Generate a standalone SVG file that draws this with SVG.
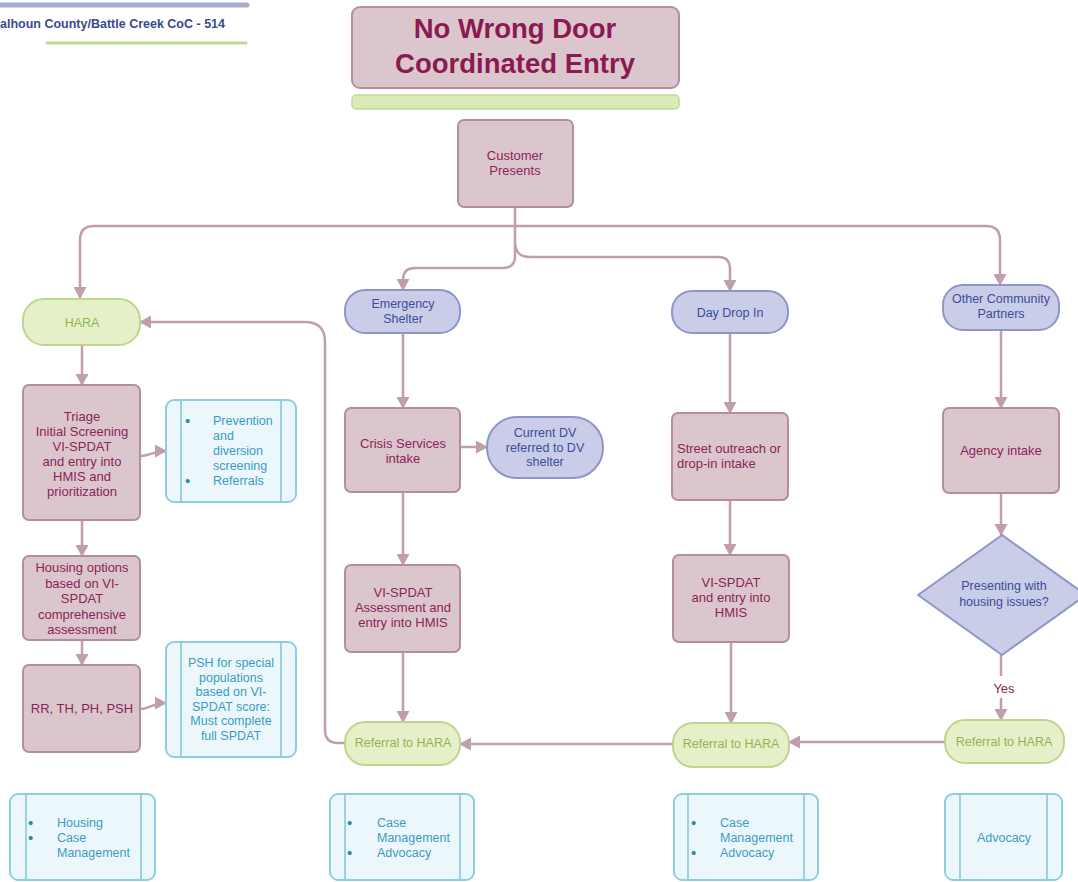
<svg xmlns="http://www.w3.org/2000/svg" width="1078" height="882" viewBox="0 0 1078 882">
<defs>
<style>
text{font-family:"Liberation Sans",Arial,sans-serif;}
.pk{fill:#dcc6ce;stroke:#b38f9e;stroke-width:2;}
.bl{fill:#c9cde7;stroke:#8e96c9;stroke-width:2;}
.gr{fill:#e6f0c8;stroke:#bcd68e;stroke-width:2;}
.cy{fill:#ecf7fb;stroke:#8fcde2;stroke-width:2;}
.cyl{fill:none;stroke:#8fcde2;stroke-width:1.8;}
.tp{fill:#8b2456;font-size:13px;text-anchor:middle;}
.tpl{fill:#8b2456;font-size:13px;}
.tb{fill:#3c4c9c;font-size:12.5px;text-anchor:middle;}
.tg{fill:#8fb552;font-size:12.5px;text-anchor:middle;}
.tc{fill:#3a9cc4;font-size:12.5px;}
.tcm{fill:#3a9cc4;font-size:12.5px;text-anchor:middle;}
.bu{fill:#2b8a9e;font-size:15px;}
.cn{fill:none;stroke:#c19ead;stroke-width:2.5;marker-end:url(#ah);}
.cnn{fill:none;stroke:#c19ead;stroke-width:2.5;}
</style>
<marker id="ah" markerUnits="userSpaceOnUse" markerWidth="12" markerHeight="13" refX="11" refY="6.5" orient="auto">
<path d="M0,0 L12,6.5 L0,13 z" fill="#c19ead"/>
</marker>
</defs>
<rect width="1078" height="882" fill="#ffffff"/>

<g id="header">
<line x1="0" y1="5" x2="247" y2="5" stroke="#a7adcf" stroke-width="5" stroke-linecap="round"/>
<text x="0" y="28" font-size="12" font-weight="bold" fill="#3a4a8c" textLength="225" lengthAdjust="spacingAndGlyphs">alhoun County/Battle Creek CoC - 514</text>
<line x1="47" y1="43" x2="246" y2="43" stroke="#bddb95" stroke-width="3" stroke-linecap="round"/>
</g>

<g id="title">
<rect x="352" y="7" width="327" height="81" rx="8" class="pk"/>
<text x="515" y="38" font-size="27.5" font-weight="bold" fill="#8b1a50" text-anchor="middle">No Wrong Door</text>
<text x="515" y="73" font-size="27.5" font-weight="bold" fill="#8b1a50" text-anchor="middle">Coordinated Entry</text>
<rect x="352" y="95" width="327" height="14" rx="4" fill="#dbebb6" stroke="#c2da9a" stroke-width="1.5"/>
</g>

<g id="connectors">
<path class="cn" d="M515,208 V226 H94 Q80,226 80,240 V298"/>
<path class="cn" d="M515,226 H986 Q1000,226 1000,240 V285"/>
<path class="cn" d="M515,226 V256 Q515,268 503,268 H415 Q403,268 403,280 V290"/>
<path class="cn" d="M515,244 Q516,257 530,257 H718 Q730,257 730,269 V291"/>
<path class="cn" d="M82,345 V385"/>
<path class="cn" d="M140,456 C150,456 152,451 166,451"/>
<path class="cn" d="M82,520 V556"/>
<path class="cn" d="M82,640 V665"/>
<path class="cn" d="M140,709 C150,709 152,703 166,703"/>
<path class="cn" d="M403,333 V408"/>
<path class="cn" d="M460,447 H487"/>
<path class="cn" d="M403,492 V565"/>
<path class="cn" d="M403,652 V722"/>
<path class="cn" d="M730,333 V413"/>
<path class="cn" d="M730,500 V555"/>
<path class="cn" d="M731,642 V723"/>
<path class="cn" d="M1001,330 V408"/>
<path class="cn" d="M1001,493 V535"/>
<path class="cnn" d="M1001,655 V676"/>
<path class="cn" d="M1001,698 V720"/>
<path class="cn" d="M945,742 H789"/>
<path class="cn" d="M673,744 H460"/>
<path class="cn" d="M345,743 H338 Q325,743 325,730 V342 Q325,322 305,322 H140"/>
<text x="1004" y="693" class="tpl" text-anchor="middle">Yes</text>
</g>

<g id="customer">
<rect x="458" y="120" width="115" height="87" rx="6" class="pk"/>
<text x="515" y="160" class="tp" font-size="12.5">Customer</text>
<text x="515" y="175" class="tp" font-size="12.5">Presents</text>
</g>

<g id="hara">
<rect x="23" y="299" width="117" height="46" rx="21" class="gr"/>
<text x="82" y="327" class="tg" font-size="11">HARA</text>
</g>

<g id="emergency-shelter">
<rect x="345" y="290" width="115" height="43" rx="20" class="bl"/>
<text x="403" y="308" class="tb">Emergency</text>
<text x="403" y="323" class="tb">Shelter</text>
</g>

<g id="day-drop-in">
<rect x="672" y="291" width="116" height="42" rx="20" class="bl"/>
<text x="730" y="317" class="tb">Day Drop In</text>
</g>

<g id="other-community">
<rect x="943" y="285" width="116" height="45" rx="20" class="bl"/>
<text x="1001" y="303" class="tb">Other Community</text>
<text x="1001" y="318" class="tb">Partners</text>
</g>

<g id="triage">
<rect x="23" y="385" width="117" height="135" rx="6" class="pk"/>
<text x="82" y="421" class="tp">Triage</text>
<text x="82" y="436" class="tp">Initial Screening</text>
<text x="82" y="451" class="tp">VI-SPDAT</text>
<text x="82" y="466" class="tp">and entry into</text>
<text x="82" y="481" class="tp">HMIS and</text>
<text x="82" y="496" class="tp">prioritization</text>
</g>

<g id="prevention">
<rect x="166" y="400" width="130" height="102" rx="8" class="cy"/>
<line x1="181" y1="400" x2="181" y2="502" class="cyl"/>
<line x1="281" y1="400" x2="281" y2="502" class="cyl"/>
<text x="185" y="426" class="bu">•</text>
<text x="213" y="425" class="tc">Prevention</text>
<text x="213" y="440" class="tc">and</text>
<text x="213" y="455" class="tc">diversion</text>
<text x="213" y="470" class="tc">screening</text>
<text x="185" y="486" class="bu">•</text>
<text x="213" y="485" class="tc">Referrals</text>
</g>

<g id="housing-options">
<rect x="23" y="556" width="117" height="84" rx="6" class="pk"/>
<text x="82" y="572" class="tp">Housing options</text>
<text x="82" y="587.5" class="tp">based on VI-</text>
<text x="82" y="603" class="tp">SPDAT</text>
<text x="82" y="618.5" class="tp">comprehensive</text>
<text x="82" y="634" class="tp">assessment</text>
</g>

<g id="rr-th-ph-psh">
<rect x="23" y="665" width="117" height="87" rx="6" class="pk"/>
<text x="82" y="713" class="tp">RR, TH, PH, PSH</text>
</g>

<g id="psh-special">
<rect x="166" y="642" width="130" height="115" rx="8" class="cy"/>
<line x1="181" y1="642" x2="181" y2="757" class="cyl"/>
<line x1="281" y1="642" x2="281" y2="757" class="cyl"/>
<text x="231" y="667" class="tcm">PSH for special</text>
<text x="231" y="681.5" class="tcm">populations</text>
<text x="231" y="696" class="tcm">based on VI-</text>
<text x="231" y="710.5" class="tcm">SPDAT score:</text>
<text x="231" y="725" class="tcm">Must complete</text>
<text x="231" y="739.5" class="tcm">full SPDAT</text>
</g>

<g id="crisis-services">
<rect x="345" y="408" width="115" height="84" rx="6" class="pk"/>
<text x="403" y="448" class="tp" font-size="12.5">Crisis Services</text>
<text x="403" y="463" class="tp" font-size="12.5">intake</text>
</g>

<g id="current-dv">
<rect x="487" y="417" width="116" height="61" rx="30" class="bl"/>
<text x="545" y="437" class="tb">Current DV</text>
<text x="545" y="452" class="tb">referred to DV</text>
<text x="545" y="466" class="tb">shelter</text>
</g>

<g id="street-outreach">
<rect x="672" y="413" width="116" height="87" rx="6" class="pk"/>
<text x="677" y="453" class="tpl" font-size="12.5">Street outreach or</text>
<text x="677" y="468" class="tpl" font-size="12.5">drop-in intake</text>
</g>

<g id="agency-intake">
<rect x="943" y="408" width="116" height="85" rx="6" class="pk"/>
<text x="1001" y="455" class="tp" font-size="12.5">Agency intake</text>
</g>

<g id="presenting">
<polygon points="1002,535 1086,595 1002,655 918,595" class="bl" stroke-linejoin="round"/>
<text x="1004" y="590" class="tb">Presenting with</text>
<text x="1004" y="606" class="tb">housing issues?</text>
</g>

<g id="vi-spdat-assessment">
<rect x="345" y="565" width="115" height="87" rx="6" class="pk"/>
<text x="403" y="597" class="tp" font-size="12.5">VI-SPDAT</text>
<text x="403" y="612" class="tp" font-size="12.5">Assessment and</text>
<text x="403" y="627" class="tp" font-size="12.5">entry into HMIS</text>
</g>

<g id="vi-spdat-entry">
<rect x="673" y="555" width="116" height="87" rx="6" class="pk"/>
<text x="731" y="587" class="tp" font-size="12.5">VI-SPDAT</text>
<text x="731" y="602" class="tp" font-size="12.5">and entry into</text>
<text x="731" y="617" class="tp" font-size="12.5">HMIS</text>
</g>

<g id="referral-1">
<rect x="345" y="722" width="115" height="43" rx="20" class="gr"/>
<text x="403" y="747" class="tg">Referral to HARA</text>
</g>

<g id="referral-2">
<rect x="673" y="723" width="116" height="44" rx="20" class="gr"/>
<text x="731" y="748" class="tg">Referral to HARA</text>
</g>

<g id="referral-3">
<rect x="945" y="720" width="119" height="43" rx="20" class="gr"/>
<text x="1004" y="746" class="tg">Referral to HARA</text>
</g>

<g id="bottom-1">
<rect x="10" y="794" width="145" height="86" rx="8" class="cy"/>
<line x1="26" y1="794" x2="26" y2="880" class="cyl"/>
<line x1="141" y1="794" x2="141" y2="880" class="cyl"/>
<text x="28" y="828" class="bu">•</text>
<text x="57" y="827" class="tc">Housing</text>
<text x="28" y="843" class="bu">•</text>
<text x="57" y="842" class="tc">Case</text>
<text x="57" y="857" class="tc">Management</text>
</g>

<g id="bottom-2">
<rect x="330" y="794" width="144" height="86" rx="8" class="cy"/>
<line x1="345" y1="794" x2="345" y2="880" class="cyl"/>
<line x1="460" y1="794" x2="460" y2="880" class="cyl"/>
<text x="347" y="828" class="bu">•</text>
<text x="377" y="827" class="tc">Case</text>
<text x="377" y="842" class="tc">Management</text>
<text x="347" y="858" class="bu">•</text>
<text x="377" y="857" class="tc">Advocacy</text>
</g>

<g id="bottom-3">
<rect x="674" y="794" width="144" height="86" rx="8" class="cy"/>
<line x1="688" y1="794" x2="688" y2="880" class="cyl"/>
<line x1="804" y1="794" x2="804" y2="880" class="cyl"/>
<text x="691" y="828" class="bu">•</text>
<text x="720" y="827" class="tc">Case</text>
<text x="720" y="842" class="tc">Management</text>
<text x="691" y="858" class="bu">•</text>
<text x="720" y="857" class="tc">Advocacy</text>
</g>

<g id="bottom-4">
<rect x="945" y="794" width="117" height="86" rx="8" class="cy"/>
<line x1="960" y1="794" x2="960" y2="880" class="cyl"/>
<line x1="1047" y1="794" x2="1047" y2="880" class="cyl"/>
<text x="1004" y="842" class="tcm">Advocacy</text>
</g>
</svg>
